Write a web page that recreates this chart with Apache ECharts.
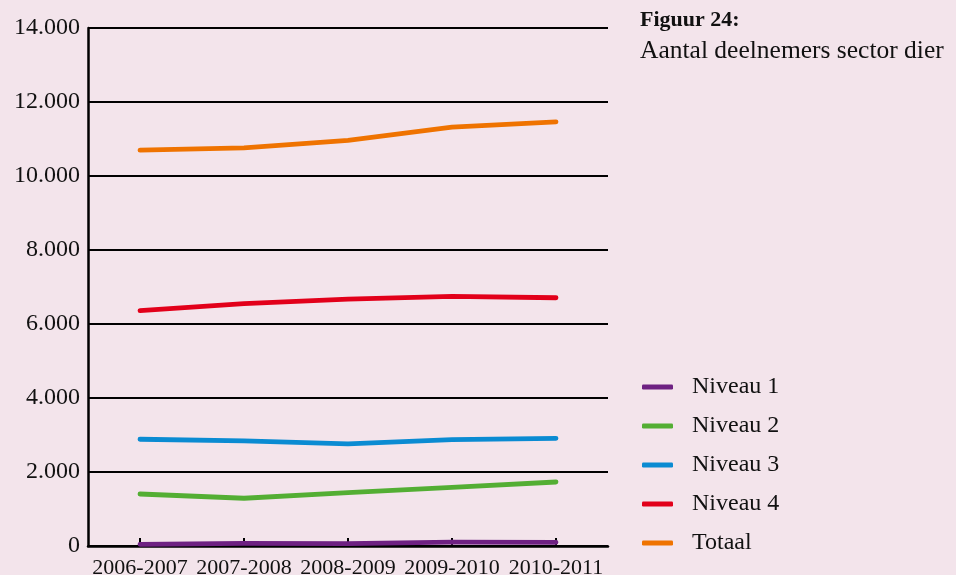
<!DOCTYPE html>
<html>
<head>
<meta charset="utf-8">
<script src="https://cdn.jsdelivr.net/npm/echarts@6/dist/echarts.min.js"></script>
<style>
html,body{margin:0;padding:0;background:#f3e4eb;}
#c{width:956px;height:575px;}
</style>
</head>
<body>
<div id="c"></div>
<script>
const categories = ['2006-2007','2007-2008','2008-2009','2009-2010','2010-2011'];
const niveau1 = [45, 70, 65, 105, 100];
const niveau2 = [1405, 1290, 1440, 1585, 1730];
const niveau3 = [2885, 2840, 2760, 2875, 2910];
const niveau4 = [6360, 6550, 6675, 6745, 6710];
const totaal = [10700, 10760, 10965, 11320, 11465];
const yTicks = {min: 0, max: 14000, interval: 2000};

const names = ['Niveau 1','Niveau 2','Niveau 3','Niveau 4','Totaal'];
const colors = ['#6e2182','#53ae33','#0a8bd2','#e2001a','#ef7300'];
const data = [niveau1, niveau2, niveau3, niveau4, totaal];
const serif = '"Liberation Serif", "DejaVu Serif", serif';

const chart = echarts.init(document.getElementById('c'));
chart.setOption({
  backgroundColor: '#f3e4eb',
  animation: false,
  title: [
    {text: 'Figuur 24:', left: 635, top: 4, textStyle: {fontFamily: serif, fontWeight: 'bold', fontSize: 22, color: '#111'}},
    {text: 'Aantal deelnemers sector dier', left: 635, top: 33, textStyle: {fontFamily: serif, fontWeight: 'normal', fontSize: 25.5, color: '#111'}}
  ],
  legend: {
    orient: 'vertical',
    left: 637,
    top: 370,
    icon: 'roundRect',
    itemWidth: 31,
    itemHeight: 5,
    itemGap: 15,
    data: names,
    textStyle: {fontFamily: serif, fontSize: 24, color: '#111', padding: [0, 0, 0, 14], lineHeight: 23}
  },
  grid: {left: 88, right: 348, top: 28, bottom: 29, containLabel: false, outerBoundsMode: 'none'},
  xAxis: {
    type: 'category',
    data: categories,
    boundaryGap: true,
    axisLine: {lineStyle: {color: '#000', width: 2.5}},
    axisTick: {show: true, inside: true, alignWithLabel: true, length: 8, lineStyle: {color: '#000', width: 2}},
    axisLabel: {fontFamily: serif, fontSize: 22, color: '#111', margin: 11, interval: 0}
  },
  yAxis: {
    type: 'value',
    min: yTicks.min, max: yTicks.max, interval: yTicks.interval,
    axisLine: {show: true, lineStyle: {color: '#000', width: 2.5}},
    axisTick: {show: false},
    splitLine: {lineStyle: {color: '#000', width: 2}},
    axisLabel: {
      fontFamily: serif, fontSize: 24, color: '#111', margin: 8, padding: [4, 0, 0, 0],
      formatter: v => v === 0 ? '0' : String(v).replace(/\B(?=(\d{3})+(?!\d))/g, '.')
    }
  },
  series: names.map((n, i) => ({
    name: n,
    type: 'line',
    data: data[i],
    symbol: 'none',
    smooth: false,
    color: colors[i],
    lineStyle: {width: 4.8, color: colors[i], cap: 'round', join: 'round'}
  }))
});
</script>
</body>
</html>
